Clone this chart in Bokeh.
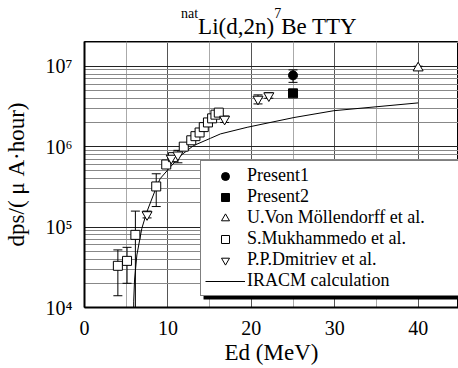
from bokeh.plotting import figure
from bokeh.models import (ColumnDataSource, Whisker, TeeHead, Legend, LegendItem,
                          FixedTicker, CustomJSTickFormatter, BoxAnnotation, Range1d, Div)
from bokeh.layouts import column
from bokeh.embed import file_html
from bokeh.resources import INLINE

# ---------------- data ----------------
present1_e = [25.0]
present1_y = [7.7e6]
present1_lo = [6.3e6]
present1_hi = [9.0e6]

present2_e = [25.0]
present2_y = [4.6e6]
present2_lo = [4.2e6]
present2_hi = [5.1e6]

moll_e = [40.0]
moll_y = [9.5e6]
moll_lo = [9.0e6]
moll_hi = [1.0e7]

muk_e = [4.0, 5.1, 6.1, 8.6, 9.8, 10.6, 11.9, 12.8, 13.3, 13.8, 14.3, 14.8, 15.3, 15.7, 16.1]
muk_y = [3.3e4, 3.8e4, 8.0e4, 3.2e5, 6.0e5, 7.4e5, 1.0e6, 1.2e6, 1.35e6, 1.5e6, 1.75e6,
         2.0e6, 2.25e6, 2.5e6, 2.65e6]
muk_err_e = [4.0, 5.1, 6.1, 8.6]
muk_err_lo = [1.4e4, 2.0e4, 1.0e3, 1.8e5]
muk_err_hi = [5.2e4, 5.6e4, 1.58e5, 4.6e5]

dmi_e = [7.5, 10.4, 11.2, 16.8, 20.8, 22.1]
dmi_y = [1.43e5, 7.2e5, 7.9e5, 2.2e6, 3.9e6, 4.3e6]
dmi_lo = [1.3e5, 6.6e5, 6.3e5, 2.0e6, 3.4e6, 4.0e6]
dmi_hi = [1.58e5, 7.8e5, 9.0e5, 2.4e6, 4.4e6, 4.7e6]

calc_e = [5.85, 5.9, 6.0, 6.28, 6.87, 7.47, 8.7, 9.07, 10.3, 11.5, 13.07, 15.1, 16.3,
          19.5, 25.1, 29.9, 40.0]
calc_y = [1.0e3, 1.2e4, 2.2e4, 4.5e4, 9.6e4, 1.54e5, 3.3e5, 4.0e5, 5.6e5, 7.7e5, 1.03e6,
          1.27e6, 1.44e6, 1.74e6, 2.3e6, 2.8e6, 3.5e6]

x_major_ticks = [0, 10, 20, 30, 40]
x_minor_ticks = [5, 15, 25, 35]
y_major_ticks = [1e4, 1e5, 1e6, 1e7]
y_minor_ticks = [k * 10.0 ** n for n in range(4, 8) for k in range(2, 10)]

title_parts = ["nat", "Li(d,2n)", "7", "Be TTY"]
x_label = "Ed (MeV)"
y_label = "dps/( \u03bc A\u00b7hour)"
legend_labels = ["Present1", "Present2", "U.Von M\u00f6llendorff et al.",
                 "S.Mukhammedo et al.", "P.P.Dmitriev et al.", "IRACM calculation"]

SERIF = "'Liberation Serif', serif"

# ---------------- title ----------------
sup = '<span style="font-size:14px;position:relative;top:-16px;">{}</span>'
title_html = (sup.format(title_parts[0]) + title_parts[1] +
              sup.format(title_parts[2]) + title_parts[3])
title = Div(text=title_html, width=458, height=29,
            styles={"font-family": SERIF, "font-size": "23px", "line-height": "22px",
                    "color": "black", "padding-left": "176px", "padding-top": "11px",
                    "white-space": "nowrap"})

# ---------------- figure ----------------
p = figure(width=458, height=328, output_backend="svg", toolbar_location=None,
           y_axis_type="log", x_range=Range1d(0, 44.84), y_range=Range1d(1e4, 2.03e7),
           min_border_left=76, min_border_right=0, min_border_top=2, min_border_bottom=59)
p.outline_line_color = "black"
p.outline_line_width = 1
p.background_fill_color = "white"

p.xaxis.ticker = FixedTicker(ticks=x_major_ticks, minor_ticks=x_minor_ticks)
p.yaxis.ticker = FixedTicker(ticks=y_major_ticks, minor_ticks=y_minor_ticks)
p.yaxis.formatter = CustomJSTickFormatter(code="""
    const e = Math.round(Math.log10(tick));
    const s = "\u2070\u00b9\u00b2\u00b3\u2074\u2075\u2076\u2077\u2078\u2079";
    return "10" + s[e];
""")
for ax in (p.xaxis, p.yaxis):
    ax.major_tick_line_color = None
    ax.minor_tick_line_color = None
    ax.axis_line_color = "black"
    ax.axis_line_width = 2
    ax.major_label_text_font = SERIF
    ax.major_label_text_font_size = "20px"
    ax.major_label_text_color = "black"
    ax.axis_label_text_font = SERIF
    ax.axis_label_text_font_size = "23px"
    ax.axis_label_text_font_style = "normal"
    ax.axis_label_text_color = "black"
p.xaxis.axis_label = x_label
p.yaxis.axis_label = y_label
p.xaxis.major_label_standoff = 7
p.xaxis.axis_label_standoff = 2
p.yaxis.major_label_standoff = 6
p.yaxis.axis_label_standoff = 14

p.xgrid.ticker = FixedTicker(ticks=x_major_ticks, minor_ticks=x_minor_ticks)
p.xgrid.grid_line_color = "#555555"
p.xgrid.minor_grid_line_color = "#aaaaaa"
p.ygrid.grid_line_color = "#222222"
p.ygrid.minor_grid_line_color = "#888888"

# ---------------- glyphs ----------------
def whisker(xs, lo, hi):
    src = ColumnDataSource(dict(x=xs, lo=lo, hi=hi))
    w = Whisker(base="x", lower="lo", upper="hi", source=src, dimension="height",
                line_color="black", line_width=1, level="underlay",
                lower_head=TeeHead(size=9, line_color="black", line_width=1),
                upper_head=TeeHead(size=9, line_color="black", line_width=1))
    p.add_layout(w)

r_calc = p.line(calc_e, calc_y, line_color="black", line_width=1)

whisker(muk_err_e, muk_err_lo, muk_err_hi)
whisker(dmi_e, dmi_lo, dmi_hi)
whisker(present1_e, present1_lo, present1_hi)
whisker(present2_e, present2_lo, present2_hi)
whisker(moll_e, moll_lo, moll_hi)

r_muk = p.scatter(muk_e, muk_y, marker="square", size=9, fill_color="white",
                  line_color="black", line_width=1)
r_dmi = p.scatter(dmi_e, dmi_y, marker="inverted_triangle", size=10, fill_color="white",
                  line_color="black", line_width=1)
r_p1 = p.scatter(present1_e, present1_y, marker="circle", size=9, fill_color="black",
                 line_color="black")
r_p2 = p.scatter(present2_e, present2_y, marker="square", size=9, fill_color="black",
                 line_color="black")
r_mol = p.scatter(moll_e, moll_y, marker="triangle", size=10, fill_color="white",
                  line_color="black", line_width=1)

# legend drop shadow (layout decoration)
shadow = BoxAnnotation(left=14.27, right=44.84, bottom=1.256e4, top=2.25e5,
                       fill_color="black", fill_alpha=1, line_color=None, level="annotation")
p.add_layout(shadow)

legend = Legend(items=[
    LegendItem(label=legend_labels[0], renderers=[r_p1]),
    LegendItem(label=legend_labels[1], renderers=[r_p2]),
    LegendItem(label=legend_labels[2], renderers=[r_mol]),
    LegendItem(label=legend_labels[3], renderers=[r_muk]),
    LegendItem(label=legend_labels[4], renderers=[r_dmi]),
    LegendItem(label=legend_labels[5], renderers=[r_calc]),
], location=(116, 11))
legend.label_text_font = SERIF
legend.label_text_font_size = "18px"
legend.label_text_color = "black"
legend.border_line_color = "black"
legend.border_line_width = 1
legend.background_fill_color = "white"
legend.background_fill_alpha = 1
legend.padding = 4
legend.spacing = 0
legend.margin = 0
legend.glyph_width = 40
legend.glyph_height = 20
legend.label_height = 20
legend.label_standoff = 2
legend.label_width = 230
p.add_layout(legend)

layout = column(title, p, spacing=0)
open("out.html", "w").write(file_html(layout, INLINE))
